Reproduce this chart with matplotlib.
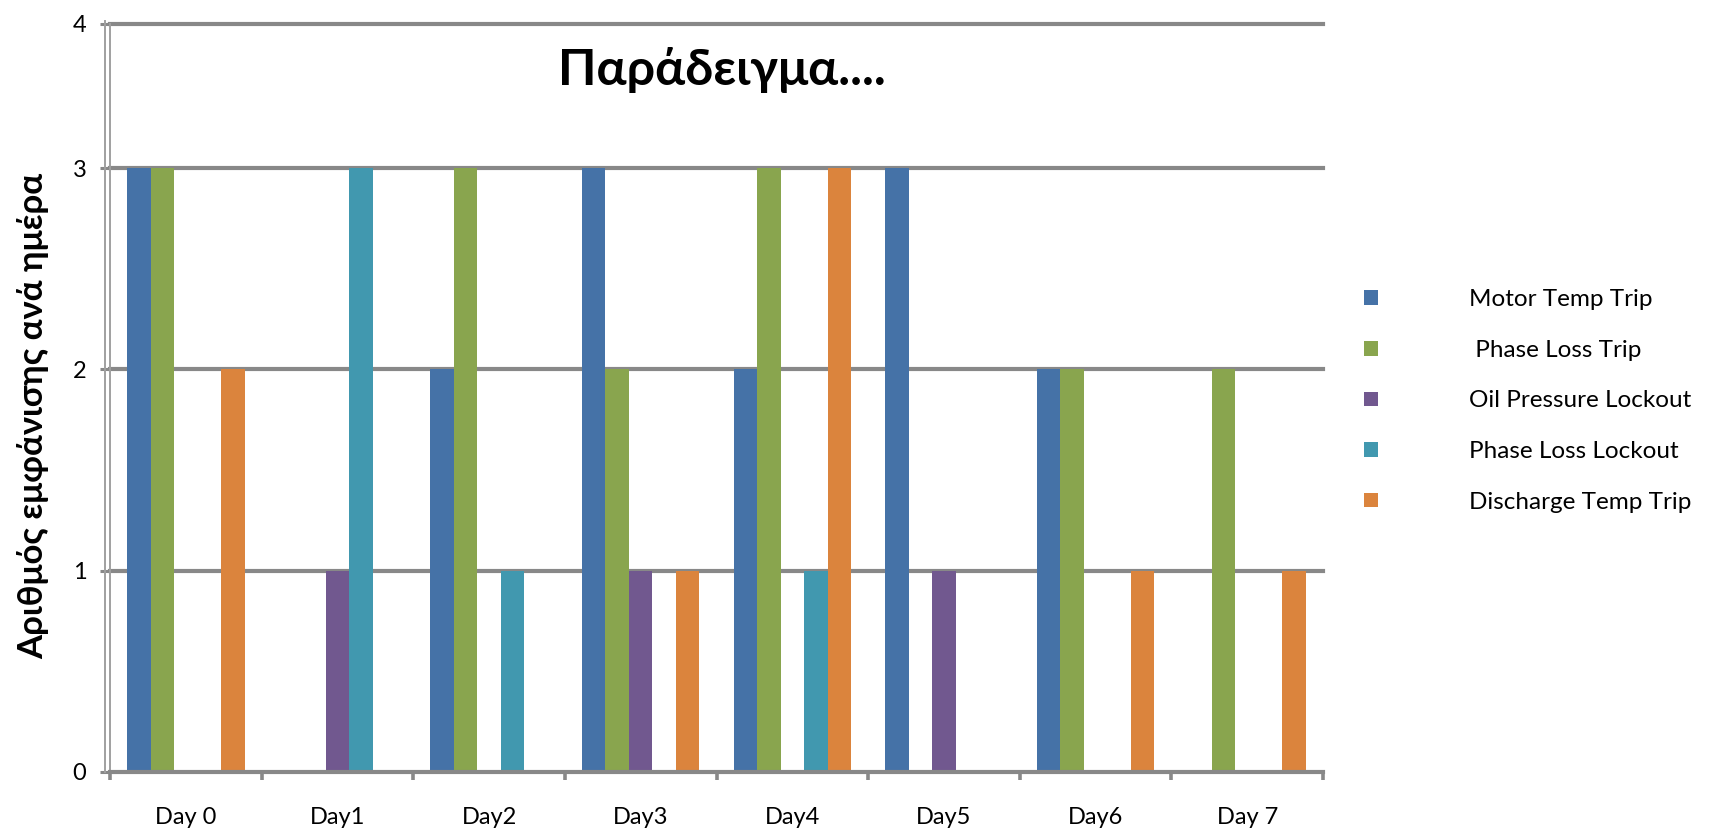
import numpy as np
import matplotlib
matplotlib.use("Agg")
import matplotlib.pyplot as plt
import matplotlib.transforms as mtransforms

plt.rcParams['font.family'] = ['Lato', 'Open Sans', 'DejaVu Sans']

days = ["Day 0", "Day1", "Day2", "Day3", "Day4", "Day5", "Day6", "Day 7"]
series_names = ["Motor Temp Trip", " Phase Loss Trip", "Oil Pressure Lockout",
                "Phase Loss Lockout", "Discharge Temp Trip"]
motor_temp_trip = [3, 0, 2, 3, 2, 3, 2, 0]
phase_loss_trip = [3, 0, 3, 2, 3, 0, 2, 2]
oil_pressure_lockout = [0, 1, 0, 1, 0, 1, 0, 0]
phase_loss_lockout = [0, 3, 1, 0, 1, 0, 0, 0]
discharge_temp_trip = [2, 0, 0, 1, 3, 0, 1, 1]
y_ticks = [0, 1, 2, 3, 4]

series = [motor_temp_trip, phase_loss_trip, oil_pressure_lockout,
          phase_loss_lockout, discharge_temp_trip]
colors = ["#4572A7", "#89A54E", "#71588F", "#4198AF", "#DB843D"]
grid_color = "#888888"

# the top band (3..4) is drawn compressed
TOP_SQUEEZE = 0.716


def fwd(y):
    y = np.asarray(y, dtype=float)
    return np.where(y <= 3, y, 3 + (y - 3) * TOP_SQUEEZE)


def inv(y):
    y = np.asarray(y, dtype=float)
    return np.where(y <= 3, y, 3 + (y - 3) / TOP_SQUEEZE)


W, H = 1732, 833
fig = plt.figure(figsize=(W / 100, H / 100), dpi=100)
ax = fig.add_axes([110 / W, 1 - 772 / H, (1323 - 110) / W, (772 - 24) / H])
ax.set_yscale('function', functions=(fwd, inv))

x = np.arange(len(days))
bw = 0.155
containers = []
for i, (vals, c, name) in enumerate(zip(series, colors, series_names)):
    bc = ax.bar(x + (i - 2) * bw, vals, width=bw, color=c, label=name, zorder=3)
    containers.append(bc)

ax.set_xlim(-0.5, len(days) - 0.5)
ax.set_ylim(0, 4)
ax.set_yticks(y_ticks)
ax.set_yticklabels([str(v) for v in y_ticks])
ax.yaxis.set_minor_locator(matplotlib.ticker.NullLocator())

# horizontal gridlines
for v in y_ticks[1:]:
    ax.axhline(v, color=grid_color, lw=3.0, zorder=1, clip_on=False)

for s in ["top", "right"]:
    ax.spines[s].set_visible(False)
ax.spines["bottom"].set_color(grid_color)
ax.spines["bottom"].set_linewidth(3.0)
ax.spines["bottom"].set_zorder(4)
ax.spines["left"].set_color("#a0a0a0")
ax.spines["left"].set_linewidth(1.4)

# second (outer) wall line just left of the y axis
off = mtransforms.offset_copy(ax.transAxes, fig=fig, x=-5, y=0, units='dots')
ax.plot([0, 0], [0, 1.004], transform=off, color="#a0a0a0", lw=1.4, clip_on=False)

ax.set_xticks(np.arange(len(days) + 1) - 0.5, minor=False)
ax.set_xticklabels([])
ax.set_xticks(x, minor=True)
ax.set_xticklabels(days, minor=True)
ax.tick_params(axis='x', which='major', length=6, width=2.6, color=grid_color, direction='out')
ax.tick_params(axis='x', which='minor', length=0, pad=25, labelsize=17)
ax.tick_params(axis='y', which='major', length=7, width=2.2, color=grid_color,
               direction='out', pad=10, labelsize=17)

# y-axis title
fig.text(33 / W, 1 - 416 / H, "Αριθμός εμφάνισης ανά ημέρα", fontsize=25,
         fontweight='bold', rotation=90, ha='center', va='center')

fig.text(722 / W, 1 - 70 / H, "Παράδειγμα....", fontsize=36, fontweight='bold',
         ha='center', va='center')

leg = ax.legend(handles=containers, loc='upper left', bbox_to_anchor=(1352 / W, 1 - 277 / H),
                bbox_transform=fig.transFigure, frameon=False, fontsize=17.5,
                handlelength=0.55, handleheight=0.55, handletextpad=3.75, labelspacing=1.22,
                borderpad=0)

fig.savefig("out.png", dpi=100)
